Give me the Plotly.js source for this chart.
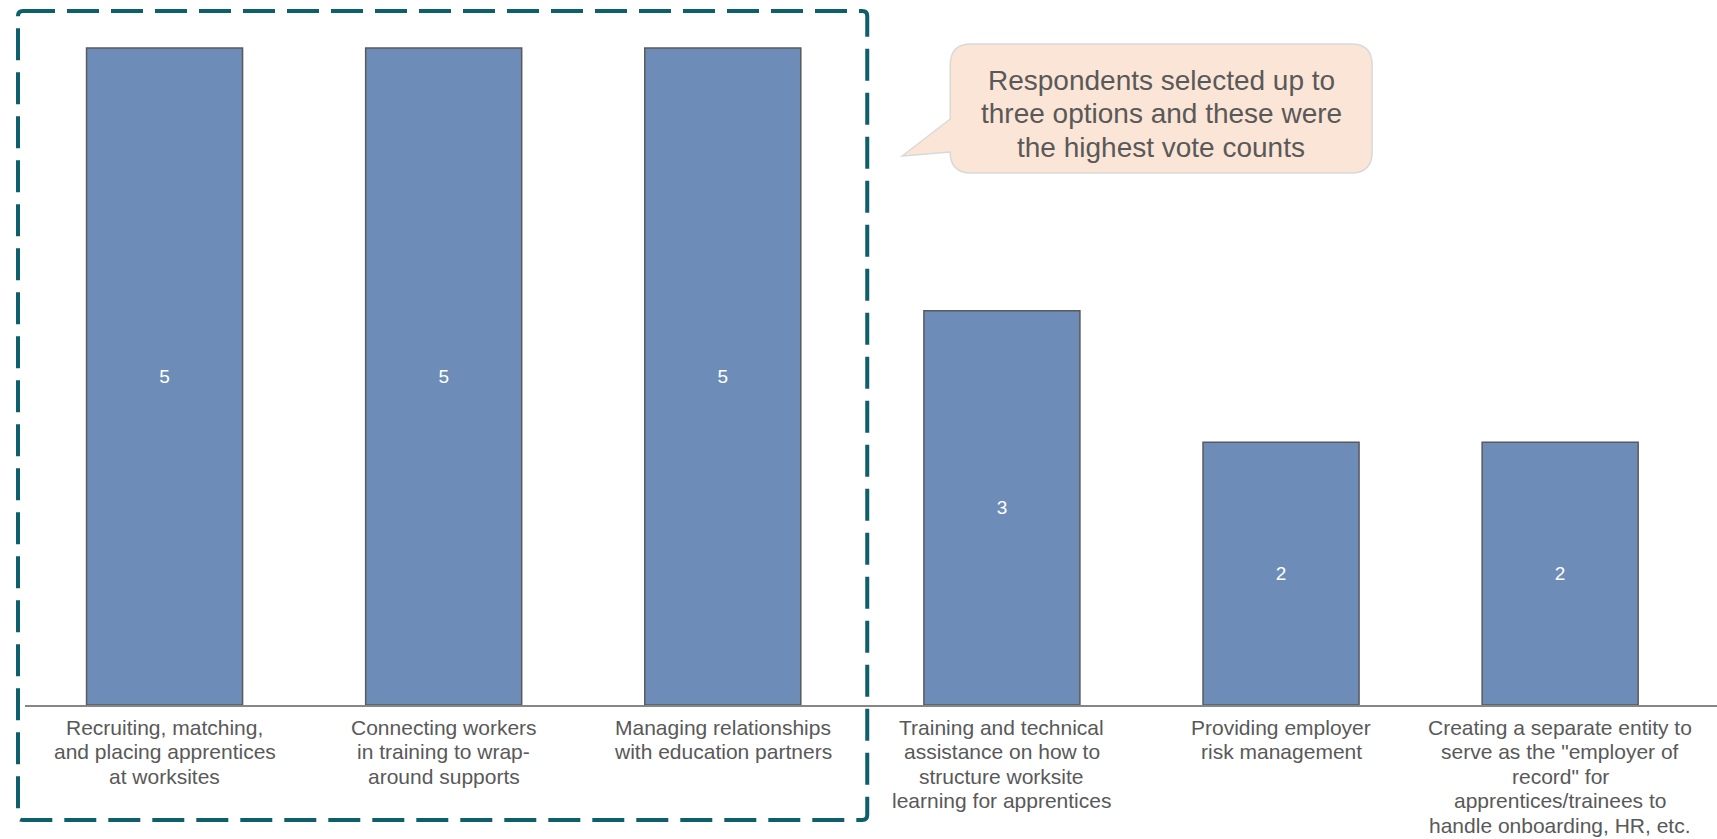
<!DOCTYPE html>
<html>
<head>
<meta charset="utf-8">
<script src="https://cdn.plot.ly/plotly-3.0.1.min.js"></script>
<style>
  html, body { margin: 0; padding: 0; background: #ffffff; }
  #chart { width: 1717px; height: 839px; }
</style>
</head>
<body>
<div id="chart"></div>
<script>
// Services that respondents most wanted an intermediary to provide
const categories = [
  "Recruiting, matching,<br>and placing apprentices<br>at worksites",
  "Connecting workers<br>in training to wrap-<br>around supports",
  "Managing relationships<br>with education partners",
  "Training and technical<br>assistance on how to<br>structure worksite<br>learning for apprentices",
  "Providing employer<br>risk management",
  "Creating a separate entity to<br>serve as the \"employer of<br>record\" for<br>apprentices/trainees to<br>handle onboarding, HR, etc."
];
const votes = [5, 5, 5, 3, 2, 2];
const calloutText = "Respondents selected up to<br>three options and these were<br>the highest vote counts";

const FONT = "Liberation Sans, Arial, sans-serif";
const GREY = "#595959";

// Page geometry (pixels)
const W = 1717, H = 839;
const M = { l: 24.5, r: 0, t: 0, b: 134 };
const plotW = W - M.l - M.r;
const plotH = H - M.t - M.b;

// Convert page pixels to paper coordinates
const px = x => (x - M.l) / plotW;
const py = y => (plotH + M.t - y) / plotH;
const P = (x, y) => px(x).toFixed(5) + "," + py(y).toFixed(5);

function roundedRectPath(x0, y0, x1, y1, r) {
  return "M" + P(x0 + r, y0) +
    " L" + P(x1 - r, y0) + " Q" + P(x1, y0) + " " + P(x1, y0 + r) +
    " L" + P(x1, y1 - r) + " Q" + P(x1, y1) + " " + P(x1 - r, y1) +
    " L" + P(x0 + r, y1) + " Q" + P(x0, y1) + " " + P(x0, y1 - r) +
    " L" + P(x0, y0 + r) + " Q" + P(x0, y0) + " " + P(x0 + r, y0) + " Z";
}

// Speech bubble with a pointer on its left side
function bubblePath(x0, y0, x1, y1, r, tipX, tipY, baseTop, baseBottom) {
  return "M" + P(x0 + r, y0) +
    " L" + P(x1 - r, y0) + " Q" + P(x1, y0) + " " + P(x1, y0 + r) +
    " L" + P(x1, y1 - r) + " Q" + P(x1, y1) + " " + P(x1 - r, y1) +
    " L" + P(x0 + r, y1) + " Q" + P(x0, y1) + " " + P(x0, y1 - r) +
    " L" + P(x0, baseBottom) + " L" + P(tipX, tipY) + " L" + P(x0, baseTop) +
    " L" + P(x0, y0 + r) + " Q" + P(x0, y0) + " " + P(x0 + r, y0) + " Z";
}

const trace = {
  type: "bar",
  x: categories.map((_, i) => i),
  y: votes,
  text: votes.map(String),
  textposition: "inside",
  insidetextanchor: "middle",
  textfont: { family: FONT, size: 19, color: "#ffffff" },
  marker: { color: "#6d8db8", line: { color: GREY, width: 1.5 } },
  hoverinfo: "skip",
  cliponaxis: false
};

// Category labels: one annotation per line so the line spacing can be set
const LABEL_TOP = 727, LABEL_STEP = 24.6;
const labelNotes = [];
categories.forEach((label, i) => {
  label.split("<br>").forEach((line, k) => {
    labelNotes.push({
      xref: "x", yref: "paper",
      x: i, y: py(LABEL_TOP + k * LABEL_STEP),
      xanchor: "center", yanchor: "middle",
      text: line, showarrow: false,
      font: { family: FONT, size: 21, color: GREY }
    });
  });
});

// Callout text, one annotation per line
const CALLOUT_TOP = 80, CALLOUT_STEP = 33.8;
const calloutNotes = calloutText.split("<br>").map((line, k) => ({
  xref: "paper", yref: "paper",
  x: px(1161), y: py(CALLOUT_TOP + k * CALLOUT_STEP),
  xanchor: "center", yanchor: "middle",
  text: line, showarrow: false,
  font: { family: FONT, size: 28, color: GREY }
}));

const layout = {
  width: W, height: H,
  margin: M,
  paper_bgcolor: "#ffffff",
  plot_bgcolor: "#ffffff",
  showlegend: false,
  bargap: 0.441,
  font: { family: FONT, color: GREY },
  xaxis: {
    type: "linear",
    range: [-0.5, -0.5 + plotW / 279.2],
    showticklabels: false,
    ticks: "",
    showgrid: false,
    zeroline: false,
    showline: true,
    linecolor: "#868686",
    linewidth: 1.5,
    fixedrange: true
  },
  yaxis: {
    range: [0, plotH / 131.4],
    visible: false,
    showgrid: false,
    zeroline: false,
    fixedrange: true
  },
  shapes: [
    {
      type: "path",
      xref: "paper", yref: "paper",
      path: roundedRectPath(17.5, 11, 867, 820, 5),
      line: { color: "#0e5f6c", width: 4, dash: "32px,12px" },
      fillcolor: "rgba(0,0,0,0)",
      layer: "above"
    },
    {
      type: "path",
      xref: "paper", yref: "paper",
      path: bubblePath(950, 44, 1372, 173, 21, 902, 156, 119, 152),
      line: { color: "#d9d9d9", width: 1.5 },
      fillcolor: "#fbe5d6",
      layer: "above"
    }
  ],
  annotations: labelNotes.concat(calloutNotes)
};

Plotly.newPlot("chart", [trace], layout, { displayModeBar: false, staticPlot: true });
</script>
</body>
</html>
